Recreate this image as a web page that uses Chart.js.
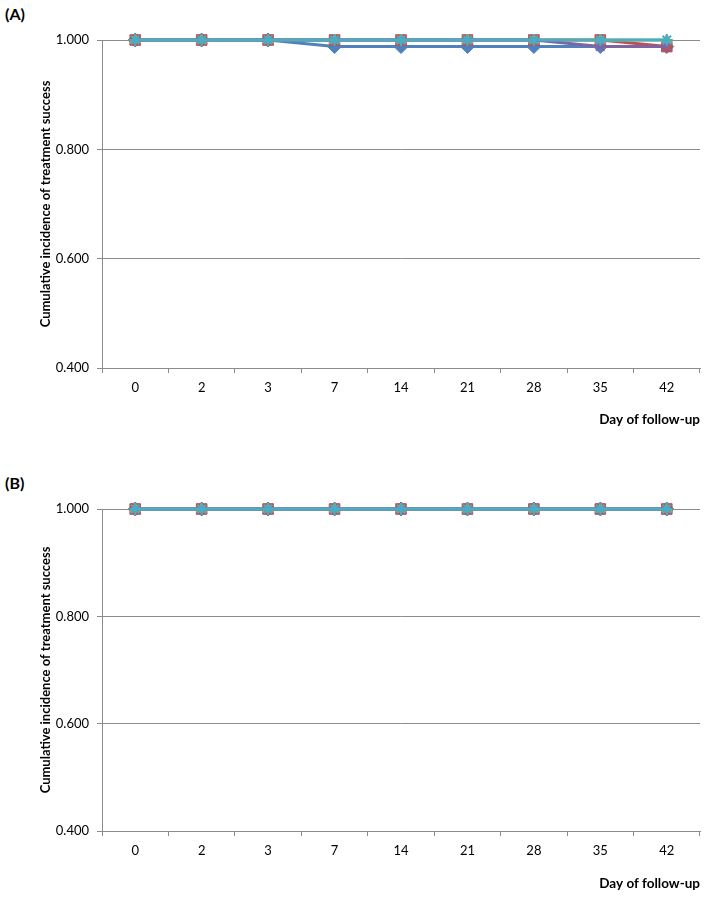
<!DOCTYPE html>
<html>
<head>
<meta charset="utf-8">
<script src="https://cdn.jsdelivr.net/npm/chart.js@4"></script>
<style>
  body { margin: 0; background: #fff; width: 709px; height: 897px; position: relative; overflow: hidden; }
  .panel { position: absolute; left: 0; width: 709px; }
  .tag { position: absolute; left: 5px; font: bold 16px Lato, sans-serif; color: #000; }
</style>
</head>
<body>
<div class="tag" style="top:4px">(A)</div>
<div class="panel" style="top:0;height:448px"><canvas id="chartA" width="709" height="448"></canvas></div>
<div class="tag" style="top:473px">(B)</div>
<div class="panel" style="top:448px;height:449px"><canvas id="chartB" width="709" height="449"></canvas></div>
<script>
document.addEventListener("DOMContentLoaded", () => {

    const days = ["0", "2", "3", "7", "14", "21", "28", "35", "42"];
    const yTicks = [0.4, 0.6, 0.8, 1.0];

    // panel A
    const a1 = [1, 1, 1, 0.988, 0.988, 0.988, 0.988, 0.988, 0.988];
    const a2 = [1, 1, 1, 1, 1, 1, 1, 1, 0.988];
    const a3 = [1, 1, 1, 1, 1, 1, 1, 1, 1];
    const a4 = [1, 1, 1, 1, 1, 1, 1, 0.988, 0.988];
    const a5 = [1, 1, 1, 1, 1, 1, 1, 1, 1];

    // panel B
    const b1 = [1, 1, 1, 1, 1, 1, 1, 1, 1];
    const b2 = [1, 1, 1, 1, 1, 1, 1, 1, 1];
    const b3 = [1, 1, 1, 1, 1, 1, 1, 1, 1];
    const b4 = [1, 1, 1, 1, 1, 1, 1, 1, 1];
    const b5 = [1, 1, 1, 1, 1, 1, 1, 1, 1];

    const colors = ["#4F81BD", "#C0504D", "#9BBB59", "#8064A2", "#4BACC6"];
    const shapes = ["rectRot", "rect", "triangle", "crossRot", "star"];
    const radii = [7, 7.5, 6, 6, 6];
    const gridCol = "#8c8c8c";

    function makeSets(series) {
        return series.map((vals, i) => ({
            data: vals,
            borderColor: colors[i],
            backgroundColor: colors[i],
            pointBackgroundColor: colors[i],
            pointBorderColor: colors[i],
            pointBorderWidth: shapes[i] === "crossRot" || shapes[i] === "star" ? 2 : 1,
            pointStyle: shapes[i],
            pointRadius: radii[i],
            borderWidth: 3,
            tension: 0,
            clip: false,
            order: 5 - i
        }));
    }

    function makeChart(id, series, padTop, xHeight, titlePad) {
        new Chart(document.getElementById(id).getContext("2d"), {
            type: "line",
            data: { labels: days, datasets: makeSets(series) },
            options: {
                responsive: false,
                animation: false,
                layout: { padding: { top: padTop, left: 30, right: 9, bottom: 0 } },
                plugins: { legend: { display: false }, tooltip: { enabled: false } },
                scales: {
                    x: {
                        offset: true,
                        grid: { offset: true, drawOnChartArea: false, drawTicks: true, tickLength: 5, color: gridCol },
                        border: { color: gridCol },
                        ticks: { color: "#000", padding: 7, font: { family: "Lato", size: 13 } },
                        title: {
                            display: true, text: "Day of follow-up", align: "end", color: "#000",
                            font: { family: "Lato", size: 13.5, weight: "bold" },
                            padding: { top: 4, bottom: titlePad }
                        },
                        afterFit: (s) => { s.height = xHeight; }
                    },
                    y: {
                        min: yTicks[0],
                        max: yTicks[yTicks.length - 1],
                        afterBuildTicks: (s) => { s.ticks = yTicks.map(v => ({ value: v })); },
                        grid: { color: gridCol, tickLength: 5 },
                        border: { color: gridCol },
                        ticks: { color: "#000", padding: 8, font: { family: "Lato", size: 13 },
                                 callback: (v) => Number(v).toFixed(3) },
                        title: {
                            display: true, text: "Cumulative incidence of treatment success", color: "#000",
                            font: { family: "Lato", size: 13, weight: "bold" },
                            padding: { top: 8, bottom: 0 }
                        },
                        afterFit: (s) => { s.width = 72; }
                    }
                }
            }
        });
    }

    makeChart("chartA", [a1, a2, a3, a4, a5], 40, 80, 20);
    makeChart("chartB", [b1, b2, b3, b4, b5], 61, 66, 5);
});
</script>
</body>
</html>
